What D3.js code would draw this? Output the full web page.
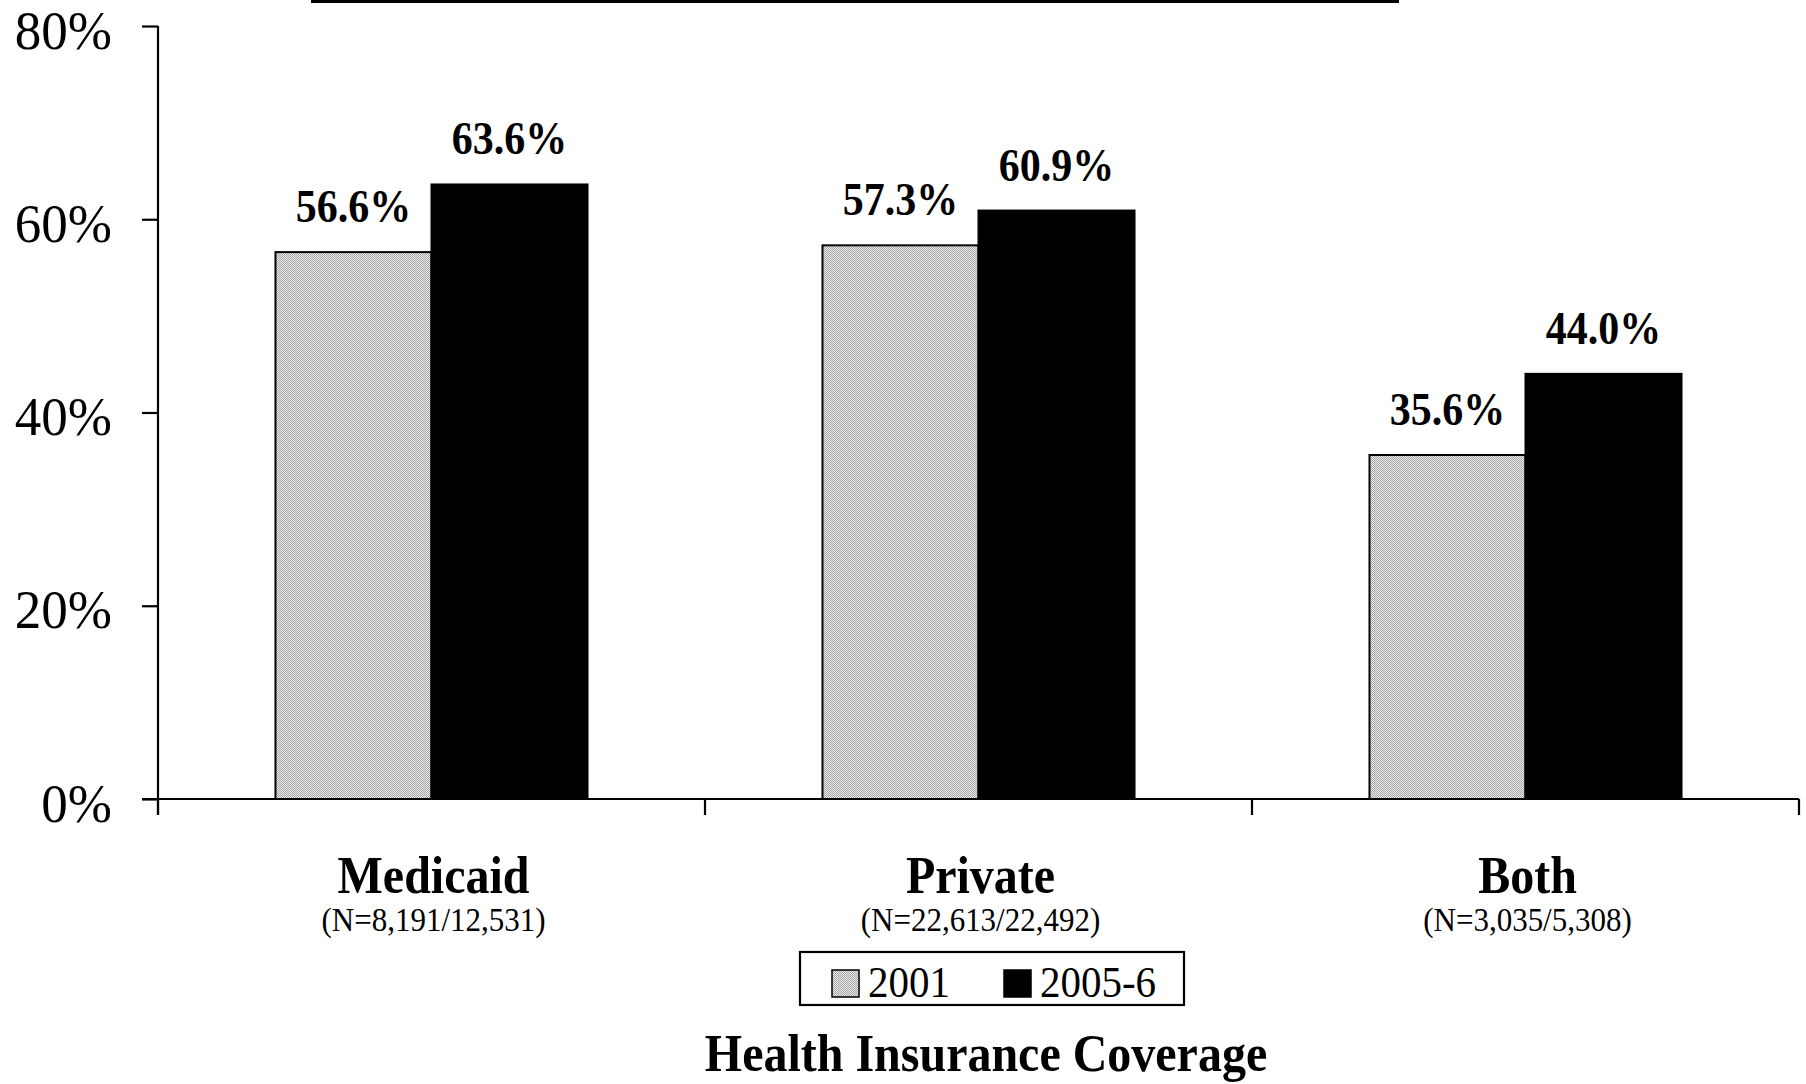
<!DOCTYPE html>
<html>
<head>
<meta charset="utf-8">
<script src="https://cdn.jsdelivr.net/npm/d3@7"></script>
<style>
html,body{margin:0;padding:0;background:#fff;}
svg{display:block;}
</style>
</head>
<body>
<svg id="chart" width="1806" height="1084"></svg>
<script>
const categories = ["Medicaid", "Private", "Both"];
const nLabels = ["(N=8,191/12,531)", "(N=22,613/22,492)", "(N=3,035/5,308)"];
const seriesNames = ["2001", "2005-6"];
const values2001 = [56.6, 57.3, 35.6];
const values2005 = [63.6, 60.9, 44.0];
const yTicks = [0, 20, 40, 60, 80];
const axisTitle = "Health Insurance Coverage";

const serif = "'Liberation Serif','Times New Roman',Times,serif";
const svg = d3.select("#chart");
const SY = 1.1;

const defs = svg.append("defs");
const pat = defs.append("pattern").attr("id","dots").attr("patternUnits","userSpaceOnUse")
  .attr("width",2).attr("height",2);
pat.append("rect").attr("width",2).attr("height",2).attr("fill","#e8e8e8");
pat.append("rect").attr("x",0).attr("y",0).attr("width",1).attr("height",1).attr("fill","#a8a8a8");
pat.append("rect").attr("x",1).attr("y",1).attr("width",1).attr("height",1).attr("fill","#a8a8a8");
const fills = ["url(#dots)", "#000"];

const x = d3.scaleBand().domain(categories).range([158, 1799]).paddingInner(0).paddingOuter(0);
const xs = d3.scaleBand().domain(seriesNames).range([0, x.bandwidth()]).paddingInner(0).paddingOuter(0.753);
const y = d3.scaleLinear().domain([0, 80]).range([799, 26]);

// top decorative line
svg.append("line").attr("x1",311).attr("x2",1399).attr("y1",1.5).attr("y2",1.5)
  .attr("stroke","#000").attr("stroke-width",3);

// bars
const data = categories.map((c,i)=>({cat:c, vals:[values2001[i], values2005[i]]}));
const g = svg.append("g");
data.forEach(d=>{
  d.vals.forEach((v,j)=>{
    g.append("rect")
      .attr("x", x(d.cat)+xs(seriesNames[j]))
      .attr("y", y(v))
      .attr("width", xs.bandwidth())
      .attr("height", y(0)-y(v))
      .attr("fill", fills[j])
      .attr("stroke","#000").attr("stroke-width",2);
    const cx = x(d.cat)+xs(seriesNames[j])+xs.bandwidth()/2;
    g.append("text")
      .attr("transform", `translate(${cx},${y(v)-30}) scale(1,${SY})`)
      .attr("text-anchor","middle")
      .attr("font-family",serif).attr("font-weight","bold").attr("font-size",42)
      .text(v.toFixed(1)+"%");
  });
});

// y axis
const yAxis = svg.append("g").attr("transform","translate(158,0)")
  .call(d3.axisLeft(y).tickValues(yTicks).tickSize(16).tickPadding(30).tickFormat(d=>d+"%"));
yAxis.select(".domain").attr("stroke","#000").attr("stroke-width",2.2)
  .attr("d", `M0,${y(80)}V${y(0)+16}`);
yAxis.selectAll(".tick line").attr("stroke","#000").attr("stroke-width",2.2);
yAxis.selectAll(".tick text").attr("font-family",serif).attr("font-size",53)
  .attr("fill","#000").attr("dy",null)
  .attr("transform",`translate(0,22) scale(1,1.04)`).attr("y",0);

// x axis line and boundary ticks
const bounds = categories.map(c=>x(c)).concat([x.range()[1]]);
svg.append("line").attr("x1",142).attr("x2",1799).attr("y1",y(0)).attr("y2",y(0))
  .attr("stroke","#000").attr("stroke-width",2.2);
svg.selectAll(".xtick").data(bounds).enter().append("line")
  .attr("x1",d=>d).attr("x2",d=>d).attr("y1",y(0)).attr("y2",y(0)+16)
  .attr("stroke","#000").attr("stroke-width",2.2);

// category labels
categories.forEach((c,i)=>{
  const cx = x(c)+x.bandwidth()/2+2;
  svg.append("text").attr("transform",`translate(${cx},893) scale(1,${SY})`)
    .attr("text-anchor","middle").attr("font-family",serif).attr("font-weight","bold")
    .attr("font-size",48).text(c);
  svg.append("text").attr("transform",`translate(${cx},931) scale(1,${SY})`)
    .attr("text-anchor","middle").attr("font-family",serif)
    .attr("font-size",31).text(nLabels[i]);
});

// legend
const lg = svg.append("g");
lg.append("rect").attr("x",800).attr("y",952).attr("width",384).attr("height",53)
  .attr("fill","#fff").attr("stroke","#000").attr("stroke-width",2.2);
const legX = [832, 1004];
seriesNames.forEach((s,j)=>{
  lg.append("rect").attr("x",legX[j]).attr("y",970).attr("width",27).attr("height",27)
    .attr("fill",fills[j]).attr("stroke","#000").attr("stroke-width",1.5);
  lg.append("text").attr("transform",`translate(${legX[j]+36},997) scale(1,${SY})`)
    .attr("font-family",serif).attr("font-size",41).text(s);
});

// axis title
svg.append("text").attr("transform",`translate(986,1071) scale(1,${SY})`)
  .attr("text-anchor","middle").attr("font-family",serif).attr("font-weight","bold")
  .attr("font-size",48).text(axisTitle);
</script>
</body>
</html>
